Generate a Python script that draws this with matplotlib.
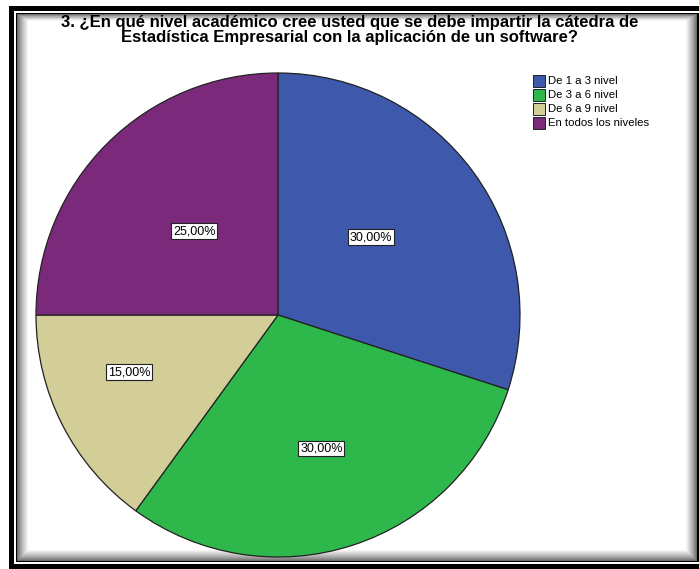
import numpy as np
import matplotlib; matplotlib.use("Agg")
import matplotlib.pyplot as plt
from matplotlib.patches import Rectangle

plt.rcParams['font.family'] = ['Liberation Sans', 'DejaVu Sans']

categories = ["De 1 a 3 nivel", "De 3 a 6 nivel", "De 6 a 9 nivel", "En todos los niveles"]
percents = [30.0, 30.0, 15.0, 25.0]
colors = ["#3E58AC", "#2EB84C", "#D3CD98", "#7B2A7B"]
title = ("3. ¿En qué nivel académico cree usted que se debe impartir la cátedra de\n"
         "Estadística Empresarial con la aplicación de un software?")

W, H = 699, 569
fig = plt.figure(figsize=(W/100, H/100), dpi=100)
fig.patch.set_facecolor("white")

# frame drawn in pixel coords
bg = fig.add_axes([0, 0, 1, 1])
bg.set_xlim(0, W); bg.set_ylim(H, 0); bg.axis("off")
bg.add_patch(Rectangle((9, 6), 700, 563, fc="black", ec="none"))
bg.add_patch(Rectangle((14, 11), 700, 553, fc="white", ec="none"))
bg.add_patch(Rectangle((16, 13), 700, 549, fc="black", ec="none"))
# soft inner shadow
x0, y0, x1, y1 = 17, 14, W - 2, 561
n = 12
for i in range(n):
    g = 0.30 + 0.70*((i+1)/n)**0.7
    bg.add_patch(Rectangle((x0+i, y0+i*0.6), (x1-i) - (x0+i), (y1-i) - (y0+i*0.6),
                           fc=(g, g, g), ec="none"))

fig.text(0.5, 1-15/H, title, ha="center", va="top", fontsize=12, fontweight="bold",
         linespacing=1.0)

# pie
cx, cy, r = 278, 315, 242
ax = fig.add_axes([(cx-r)/W, (H-cy-r)/H, 2*r/W, 2*r/H])
wedges, _ = ax.pie(percents, colors=colors, startangle=90, counterclock=False,
                   wedgeprops=dict(edgecolor="#222222", linewidth=0.9))
ax.set_xlim(-1, 1); ax.set_ylim(-1, 1)

label_dist = [0.50, 0.58, 0.66, 0.49]
label_shift = [4, 0, -6, 0]
for w, p, d, s in zip(wedges, percents, label_dist, label_shift):
    a = np.deg2rad((w.theta1 + w.theta2)/2 + s)
    ax.text(d*np.cos(a), d*np.sin(a), f"{p:.2f}%".replace(".", ","), ha="center", va="center",
            fontsize=9, bbox=dict(boxstyle="square,pad=0.15", fc="white", ec="#222222", lw=0.8))

# legend
lx, ly, step = 533, 81, 14
for i, (c, lab) in enumerate(zip(colors, categories)):
    y = ly + i*step
    bg.add_patch(Rectangle((lx, y-6), 12, 12, fc=c, ec="#222222", lw=0.7))
    bg.text(lx+15, y, lab, fontsize=8.2, va="center", ha="left")

fig.savefig("out.png", dpi=100)
